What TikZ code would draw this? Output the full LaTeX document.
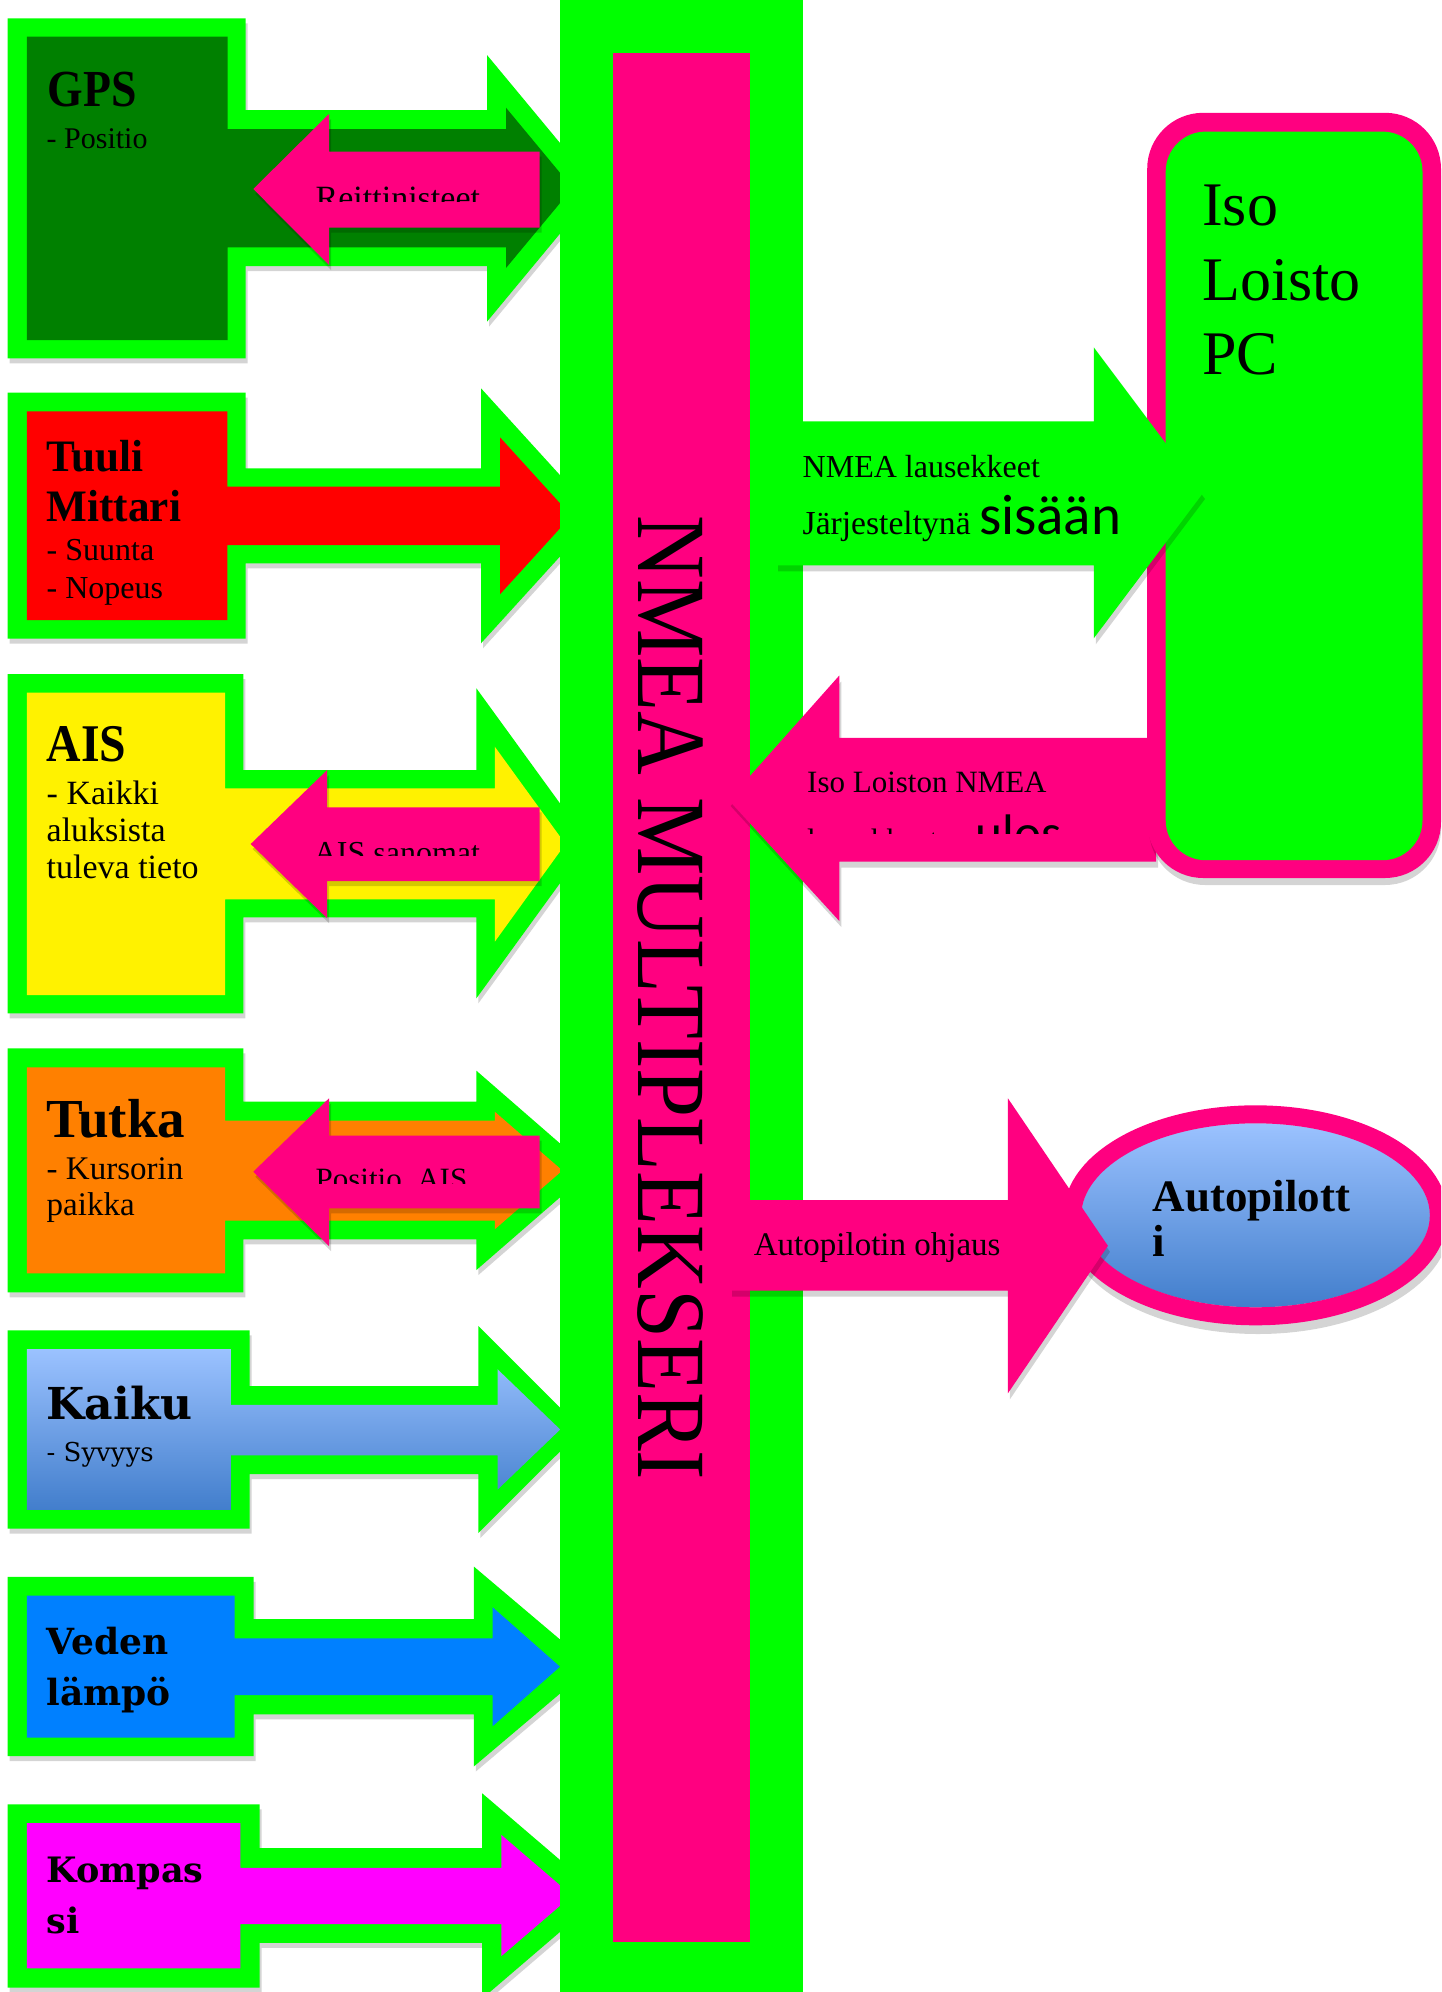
\documentclass[tikz,border=0pt]{standalone}
\usepackage{fontspec}
\setmainfont{Liberation Serif}
\newfontfamily\dejaserif{DejaVu Serif}
\newfontfamily\carlitofont{Carlito}
\newcommand\setfs[1]{\fontsize{#1pt}{#1pt}\selectfont}
\definecolor{lgreen}{RGB}{0,255,0}
\definecolor{dgreen}{RGB}{0,128,0}
\definecolor{pinkm}{RGB}{255,0,128}
\definecolor{orng}{RGB}{255,128,0}
\definecolor{skyb}{RGB}{0,128,255}
\definecolor{magn}{RGB}{255,0,255}
\definecolor{gradtop}{RGB}{155,194,255}
\definecolor{gradbot}{RGB}{66,126,204}
\tikzset{
  lbl/.style={inner sep=0pt, outer sep=0pt, anchor=base west, text=black},
  shadowfill/.style={fill=black, fill opacity=0.17},
  outerfill/.style={fill=lgreen},
  pinkfill/.style={fill=pinkm},
}
\begin{document}
\begin{tikzpicture}[x=0.5pt,y=-0.5pt]
\useasboundingbox (0,0) rectangle (1441,1992);
\clip (0,0) rectangle (1441,1992);
\fill[white] (0,0) rectangle (1441,1992);

% ---------- GPS ----------
\def\gpsouter{(7.7,18.3) -- (245.7,18.3) -- (245.7,110) -- (487,110) -- (487,55) -- (597.6,188.3) -- (487,321.7) -- (487,266) -- (245.7,266) -- (245.7,358.3) -- (7.7,358.3) -- cycle}
\fill[shadowfill,shift={(2,5)}] \gpsouter;
\fill[outerfill] \gpsouter;
\fill[dgreen] (26.8,36.7) -- (227.7,36.7) -- (227.7,129) -- (506,129) -- (506,107.7) -- (572.6,188) -- (506,268) -- (506,247.3) -- (227.7,247.3) -- (227.7,340) -- (26.8,340) -- cycle;
\def\gpspink{(539.6,151.7) -- (329,151.7) -- (329,114) -- (253.3,189) -- (329,265) -- (329,227.7) -- (539.6,227.7) -- cycle}
\fill[shadowfill,shift={(2,5)}] \gpspink;
\fill[pinkfill] \gpspink;
\begin{scope}
\clip (300,150) rectangle (540,201.7);
\node[lbl,font=\setfs{17}] (reitti) at (315.7,209.5) {Reittinisteet};
\end{scope}
\node[lbl,font=\bfseries\setfs{26}] (gpsT) at (47.8,106.7) {\scalebox{0.88}[1]{GPS}};
\node[lbl,font=\setfs{15}] (gpsS) at (46.7,148) {- Positio};

% ---------- Tuuli ----------
\def\tuuliouter{(7.7,392.7) -- (245.7,392.7) -- (245.7,468.3) -- (481,468.3) -- (481,388.3) -- (597,515.8) -- (481,643.3) -- (481,563.3) -- (245.7,563.3) -- (245.7,638.7) -- (7.7,638.7) -- cycle}
\fill[shadowfill,shift={(2,5)}] \tuuliouter;
\fill[outerfill] \tuuliouter;
\fill[red] (26.8,411.3) -- (227.3,411.3) -- (227.3,486.7) -- (500,486.7) -- (500,437.3) -- (571.4,515.8) -- (500,594.3) -- (500,545) -- (227.3,545) -- (227.3,620) -- (26.8,620) -- cycle;
\node[lbl,font=\bfseries\setfs{22.5}] (tuuli1) at (46.7,471.7) {\scalebox{0.96}[1]{Tuuli}};
\node[lbl,font=\bfseries\setfs{22.5}] (tuuli2) at (46.7,521.7) {\scalebox{0.96}[1]{Mittari}};
\node[lbl,font=\setfs{16}] (tuuli3) at (46.7,560) {- Suunta};
\node[lbl,font=\setfs{16}] (tuuli4) at (46.7,598.3) {- Nopeus};

% ---------- AIS ----------
\def\aisouter{(7.7,674) -- (243.4,674) -- (243.4,770) -- (476.4,770) -- (476.4,688.3) -- (589,843.3) -- (476.4,998.3) -- (476.4,917.3) -- (243.4,917.3) -- (243.4,1013.3) -- (7.7,1013.3) -- cycle}
\fill[shadowfill,shift={(2,5)}] \aisouter;
\fill[outerfill] \aisouter;
\fill[yellow] (26.8,692.7) -- (225,692.7) -- (225,788.3) -- (494.8,788.3) -- (494.8,746.7) -- (565.4,844) -- (494.8,941.7) -- (494.8,899.3) -- (225,899.3) -- (225,995) -- (26.8,995) -- cycle;
\def\aispink{(539.6,807.3) -- (327.2,807.3) -- (327.2,770) -- (250.7,844) -- (327.2,918.3) -- (327.2,881) -- (539.6,881) -- cycle}
\fill[shadowfill,shift={(2,5)}] \aispink;
\fill[pinkfill] \aispink;
\begin{scope}
\clip (300,805) rectangle (540,855);
\node[lbl,font=\setfs{16}] (aissan) at (313.8,863) {AIS sanomat};
\end{scope}
\node[lbl,font=\bfseries\setfs{26.5}] (ais1) at (46.7,761.7) {\scalebox{0.9}[1]{AIS}};
\node[lbl,font=\setfs{17}] (ais2) at (46.7,804) {- Kaikki};
\node[lbl,font=\setfs{17}] (ais3) at (46.7,841.7) {aluksista};
\node[lbl,font=\setfs{17}] (ais4) at (46.7,878.3) {tuleva tieto};

% ---------- Tutka ----------
\def\tutkaouter{(7.7,1048.3) -- (243.4,1048.3) -- (243.4,1101.7) -- (476.4,1101.7) -- (476.4,1070.7) -- (591,1170.4) -- (476.4,1270) -- (476.4,1239.3) -- (243.4,1239.3) -- (243.4,1292.3) -- (7.7,1292.3) -- cycle}
\fill[shadowfill,shift={(2,5)}] \tutkaouter;
\fill[outerfill] \tutkaouter;
\fill[orng] (26.8,1067.3) -- (225,1067.3) -- (225,1120.7) -- (494.8,1120.7) -- (494.8,1111.7) -- (562.4,1170.5) -- (494.8,1229.3) -- (494.8,1220.7) -- (225,1220.7) -- (225,1273.3) -- (26.8,1273.3) -- cycle;
\def\tutkapink{(539.6,1135.7) -- (329,1135.7) -- (329,1098.3) -- (253.3,1171.7) -- (329,1246) -- (329,1208.3) -- (539.6,1208.3) -- cycle}
\fill[shadowfill,shift={(2,5)}] \tutkapink;
\fill[pinkfill] \tutkapink;
\begin{scope}
\clip (300,1135) rectangle (540,1183.3);
\node[lbl,font=\setfs{15.5}] (posais) at (315.7,1189.8) {Positio, AIS};
\end{scope}
\node[lbl,font=\bfseries\setfs{27.5}] (tutka1) at (46.7,1137.3) {Tutka};
\node[lbl,font=\setfs{16.5}] (tutka2) at (46.7,1179) {- Kursorin};
\node[lbl,font=\setfs{16.5}] (tutka3) at (46.7,1215.7) {paikka};

% ---------- Kaiku ----------
\def\kaikuouter{(7.7,1330.4) -- (249.5,1330.4) -- (249.5,1386.2) -- (478.4,1386.2) -- (478.4,1325.9) -- (582,1429.5) -- (478.4,1533) -- (478.4,1474.1) -- (249.5,1474.1) -- (249.5,1528.6) -- (7.7,1528.6) -- cycle}
\fill[shadowfill,shift={(2,5)}] \kaikuouter;
\fill[outerfill] \kaikuouter;
\shade[top color=gradtop,bottom color=gradbot] (26.8,1349.1) -- (230.8,1349.1) -- (230.8,1404.9) -- (497.5,1404.9) -- (497.5,1369.2) -- (560.2,1429.5) -- (497.5,1489.7) -- (497.5,1455.3) -- (230.8,1455.3) -- (230.8,1509.8) -- (26.8,1509.8) -- cycle;
\node[lbl,font=\dejaserif\bfseries\setfs{22}] (kaiku1) at (46.7,1419.6) {Kaiku};
\node[lbl,font=\dejaserif\setfs{13}] (kaiku2) at (46.7,1461.6) {- Syvyys};

% ---------- Veden ----------
\def\vedenouter{(7.7,1576.8) -- (253.7,1576.8) -- (253.7,1619.2) -- (473.8,1619.2) -- (473.8,1566.5) -- (592,1666.5) -- (473.8,1766.5) -- (473.8,1714.3) -- (253.7,1714.3) -- (253.7,1756.2) -- (7.7,1756.2) -- cycle}
\fill[shadowfill,shift={(2,5)}] \vedenouter;
\fill[outerfill] \vedenouter;
\fill[skyb] (26.8,1595.5) -- (234.6,1595.5) -- (234.6,1638.4) -- (492.5,1638.4) -- (492.5,1607.1) -- (560,1666.7) -- (492.5,1726.3) -- (492.5,1695.1) -- (234.6,1695.1) -- (234.6,1737.5) -- (26.8,1737.5) -- cycle;
\node[lbl,font=\dejaserif\bfseries\setfs{18}] (veden1) at (46.7,1654.9) {Veden};
\node[lbl,font=\dejaserif\bfseries\setfs{18}] (veden2) at (46.7,1705.3) {lämpö};

% ---------- Kompassi ----------
\def\kompouter{(7.7,1804.4) -- (259.5,1804.4) -- (259.5,1848.2) -- (482.2,1848.2) -- (482.2,1793.3) -- (602,1895.9) -- (482.2,1998.6) -- (482.2,1942.8) -- (259.5,1942.8) -- (259.5,1987.5) -- (7.7,1987.5) -- cycle}
\fill[shadowfill,shift={(2,5)}] \kompouter;
\fill[outerfill] \kompouter;
\fill[magn] (26.8,1823.2) -- (240.3,1823.2) -- (240.3,1867.8) -- (501.3,1867.8) -- (501.3,1834.8) -- (572,1895.5) -- (501.3,1956.2) -- (501.3,1924.1) -- (240.3,1924.1) -- (240.3,1968.3) -- (26.8,1968.3) -- cycle;
\node[lbl,font=\dejaserif\bfseries\setfs{17.5}] (komp1) at (46.7,1882.6) {Kompas};
\node[lbl,font=\dejaserif\bfseries\setfs{17.5}] (komp2) at (46.7,1933) {si};

% ---------- Multiplexer ----------
\fill[lgreen] (560,0) rectangle (803,1992);
\fill[pinkm] (613,53) rectangle (750,1942);
\node[lbl,rotate=-90,font=\setfs{49}] (mux) at (638.7,515.8) {\scalebox{0.9}[1]{NMEA MULTIPLEKSERI}};

% ---------- Iso Loisto PC ----------
\def\ulosarrow{(1156,737.8) -- (839.3,737.8) -- (839.3,675.5) -- (728.6,800) -- (839.3,921) -- (839.3,861.5) -- (1156,861.5) -- cycle}
\fill[shadowfill,shift={(2,6)}] \ulosarrow;
\fill[pinkfill] \ulosarrow;
\fill[shadowfill] (1149,120) [rounded corners=28pt] rectangle (1441,885);
\fill[pinkm,rounded corners=28pt] (1147.2,112.8) rectangle (1441,878);
\fill[lgreen,rounded corners=20pt] (1165.7,131.6) rectangle (1422.5,860.2);
\def\nmeaarrow{(776,421.4) -- (1093.8,421.4) -- (1093.8,347.4) -- (1203,493) -- (1093.8,638.3) -- (1093.8,565.3) -- (776,565.3) -- cycle}
\fill[shadowfill,shift={(2,6)}] \nmeaarrow;
\fill[lgreen] \nmeaarrow;
\node[lbl,font=\setfs{31}] (pc1) at (1202.3,225) {Iso};
\node[lbl,font=\setfs{31}] (pc2) at (1202.3,300) {Loisto};
\node[lbl,font=\setfs{31}] (pc3) at (1202.3,374.5) {PC};
\node[lbl,font=\setfs{16}] (nmea1) at (802.7,477.5) {NMEA lausekkeet};
\node[lbl,font=\setfs{16.8}] (nmea2) at (802.7,534.7) {Järjesteltynä {\carlitofont\setfs{28.5}sisään}};
\begin{scope}
\clip (800,750) rectangle (1150,833);
\node[lbl,font=\setfs{15.5}] (ulos1) at (807.2,792.8) {Iso Loiston NMEA};
\node[lbl,font=\setfs{15.5}] (ulos2) at (807.2,850) {lausekkeet};
\node[lbl,font=\carlitofont\setfs{25.7}] (ulos3) at (975.8,850) {ulos};
\end{scope}

% ---------- Autopilotti ----------
\fill[shadowfill] (1258,1224) ellipse [x radius=96pt, y radius=55pt];
\shade[top color=gradtop,bottom color=gradbot] (1255.6,1215.3) ellipse [x radius=87.1pt, y radius=46pt];
\draw[pinkm,line width=9pt] (1255.6,1215.3) ellipse [x radius=91.6pt, y radius=50.5pt];
\def\autoarrow{(730,1200) -- (1007.9,1200) -- (1007.9,1098.3) -- (1107.9,1245.8) -- (1007.9,1393.3) -- (1007.9,1290.7) -- (730,1290.7) -- cycle}
\fill[shadowfill,shift={(2,6)}] \autoarrow;
\fill[pinkfill] \autoarrow;
\node[lbl,font=\setfs{16.5}] (ohj) at (753.9,1255) {Autopilotin ohjaus};
\node[lbl,font=\bfseries\setfs{22.5}] (ap1) at (1152.8,1211.7) {Autopilott};
\node[lbl,font=\bfseries\setfs{22.5}] (ap2) at (1152.8,1256.7) {i};
\end{tikzpicture}
\end{document}
